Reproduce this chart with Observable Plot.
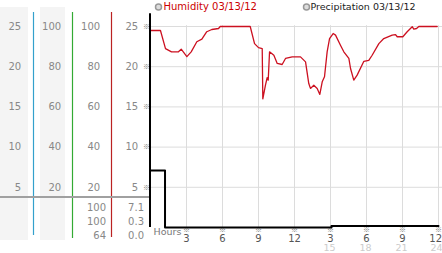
<!DOCTYPE html>
<html><head><meta charset="utf-8">
<script src="https://cdn.jsdelivr.net/npm/d3@7"></script>
<script src="https://cdn.jsdelivr.net/npm/@observablehq/plot@0.6"></script>
<style>html,body{margin:0;padding:0;background:#fff}svg{display:block}</style>
</head><body><div id="chart"></div>
<script>
// ---- data ----
const hours = [0,0.83,1.25,1.75,2.33,2.56,3.03,3.39,3.86,4.28,4.69,5.11,5.67,5.81,8.31,8.67,9.0,9.31,9.36,9.58,9.72,9.81,9.92,10.28,10.56,10.97,11.25,11.81,12.5,12.92,13.19,13.33,13.61,13.89,14.11,14.31,14.5,14.72,14.92,15.22,15.42,15.83,16.11,16.53,16.67,16.94,17.22,17.78,18.19,18.47,19.03,19.44,20.14,20.42,20.56,21.03,21.39,21.81,21.94,22.17,22.36,23.89];
const humidity = [98,98,89,87.4,87.4,88.7,85,87.4,92.4,93.7,97.4,98.5,99,100,100,91.5,89.5,89,64,70.8,74.5,73.3,87.4,85.7,81.6,81.1,84.1,84.9,84.9,82.4,71.6,69.2,70.8,69.2,66.2,72.5,75,87.4,94,96.5,95.7,90.7,87.4,84.1,79.1,73.3,75.8,82.7,83.2,85.7,91.5,94,95.7,96,94.9,94.9,97.4,99.9,98.7,99,100,100];
const precipHours = [0, 1.21, 15.08, 24];
const precip = [7.1, 0, 0.2, 0.2];
const yTicks = [5, 10, 15, 20, 25];
const xTicks = [3, 6, 9, 12, 15, 18, 21, 24];
const xLabels12 = ["3","6","9","12","3","6","9","12"];
const xTicks24 = [15, 18, 21, 24];
const xLabels24 = ["15","18","21","24"];
const humidityStats = ["100","100","64"];
const precipStats = ["7.1","0.3","0.0"];
const titles = ["Humidity 03/13/12", "Precipitation 03/13/12"];

const humData = hours.map((h, i) => ({h, v: humidity[i]}));
const precData = precipHours.map((h, i) => ({h, v: precip[i]}));
const lab12 = new Map(xTicks.map((t, i) => [t, xLabels12[i]]));
const lab24 = new Map(xTicks24.map((t, i) => [t, xLabels24[i]]));
const inner = t => t < 24, last = t => t === 24;

const yCol = (dx, fmt) => Plot.axisY(yTicks, {anchor: "left", tickSize: 0, tickPadding: 0, dx, tickFormat: fmt, fill: "#888", label: null});
const mark = {tickFormat: () => "※", fontFamily: "'Noto Sans CJK JP', 'DejaVu Sans', sans-serif", fontSize: 7, fill: "#777", label: null, tickSize: 0, tickPadding: 0};

const plot = Plot.plot({
  width: 442, height: 253,
  marginLeft: 150, marginRight: 4, marginTop: 26, marginBottom: 26,
  x: {domain: [0, 24]},
  y: {domain: [0, 25]},
  style: {fontFamily: "'DejaVu Sans', sans-serif", fontSize: "10px", background: "white", overflow: "visible"},
  marks: [
    Plot.ruleY(yTicks, {x1: 0, x2: 24.4, stroke: "#dcdcdc"}),
    Plot.ruleX(xTicks, {y1: 0, y2: 25.1, stroke: "#dcdcdc"}),
    yCol(-129.3, d => d),
    yCol(-89.3, d => d * 4),
    yCol(-50.3, d => d * 4),
    yCol(-12.3, d => d),
    Plot.axisY(yTicks, {...mark, anchor: "left", dx: -4, textAnchor: "middle"}),
    Plot.axisX(xTicks, {...mark, anchor: "bottom", dy: 0}),
    Plot.axisX(xTicks.filter(inner), {anchor: "bottom", tickSize: 0, tickPadding: 0, dy: 7, tickFormat: d => lab12.get(d), fill: "#555", label: null}),
    Plot.axisX(xTicks.filter(last), {anchor: "bottom", tickSize: 0, tickPadding: 0, dy: 7, dx: 3.5, textAnchor: "end", tickFormat: d => lab12.get(d), fill: "#555", label: null}),
    Plot.axisX(xTicks24.filter(inner), {anchor: "bottom", tickSize: 0, tickPadding: 0, dy: 17, dx: -1, fontSize: 9.5, tickFormat: d => lab24.get(d), fill: "#ccc", label: null}),
    Plot.axisX(xTicks24.filter(last), {anchor: "bottom", tickSize: 0, tickPadding: 0, dy: 17, dx: 4, fontSize: 9.5, textAnchor: "end", tickFormat: d => lab24.get(d), fill: "#ccc", label: null}),
    Plot.text(["Hours"], {text: d => d, frameAnchor: "bottom-left", dx: 3, dy: 4.5, textAnchor: "start", lineAnchor: "middle", fill: "#777", fontSize: 9.5}),
    Plot.text([humidityStats.join("\n")], {text: d => d, frameAnchor: "bottom-left", dx: -44.5, dy: -26.6, textAnchor: "end", lineAnchor: "top", lineHeight: 1.4, fill: "#888"}),
    Plot.text([precipStats.join("\n")], {text: d => d, frameAnchor: "bottom-left", dx: -6.5, dy: -26.6, textAnchor: "end", lineAnchor: "top", lineHeight: 1.4, fill: "#888"}),
    Plot.line(humData, {x: "h", y: d => d.v / 4, stroke: "#cc1020", strokeWidth: 1.3}),
    Plot.line(precData, {x: "h", y: "v", curve: "step-after", stroke: "#000", strokeWidth: 2}),
    Plot.ruleX([0], {y1: 0, y2: 26.6, stroke: "#000", strokeWidth: 2, dx: -0.5}),
    Plot.dot([titles[0]], {frameAnchor: "top-left", dx: 8, dy: -19.5, r: 3, fill: "#ddd", stroke: "#999"}),
    Plot.dot([titles[1]], {frameAnchor: "top-left", dx: 156, dy: -19.5, r: 3, fill: "#ddd", stroke: "#999"}),
    Plot.text([titles[0]], {text: d => d, frameAnchor: "top-left", dx: 13, dy: -19.5, textAnchor: "start", lineAnchor: "middle", fill: "#c00"}),
    Plot.text([titles[1]], {text: d => d, frameAnchor: "top-left", dx: 160, dy: -19.5, textAnchor: "start", lineAnchor: "middle", fill: "#222", fontSize: 9.5})
  ]
});

// decorative panel backgrounds and dividers on the left
const svg = d3.select(plot);
const deco = svg.insert("g", ":first-child");
deco.append("rect").attr("x", 0).attr("y", 7).attr("width", 28).attr("height", 233).attr("fill", "#f4f4f4");
deco.append("rect").attr("x", 40).attr("y", 7).attr("width", 25).attr("height", 233).attr("fill", "#f4f4f4");
[[33.5, 235, "#33a0cc"], [72.5, 238, "#33aa33"], [111.5, 237, "#bb2222"]].forEach(([x, y2, c]) =>
  deco.append("line").attr("x1", x).attr("x2", x).attr("y1", 12).attr("y2", y2).attr("stroke", c).attr("stroke-width", 1.2));
deco.append("line").attr("x1", 0).attr("x2", 149).attr("y1", 197).attr("y2", 197).attr("stroke", "#a0a0a0").attr("stroke-width", 2);

document.getElementById("chart").appendChild(plot);
</script>
</body></html>
